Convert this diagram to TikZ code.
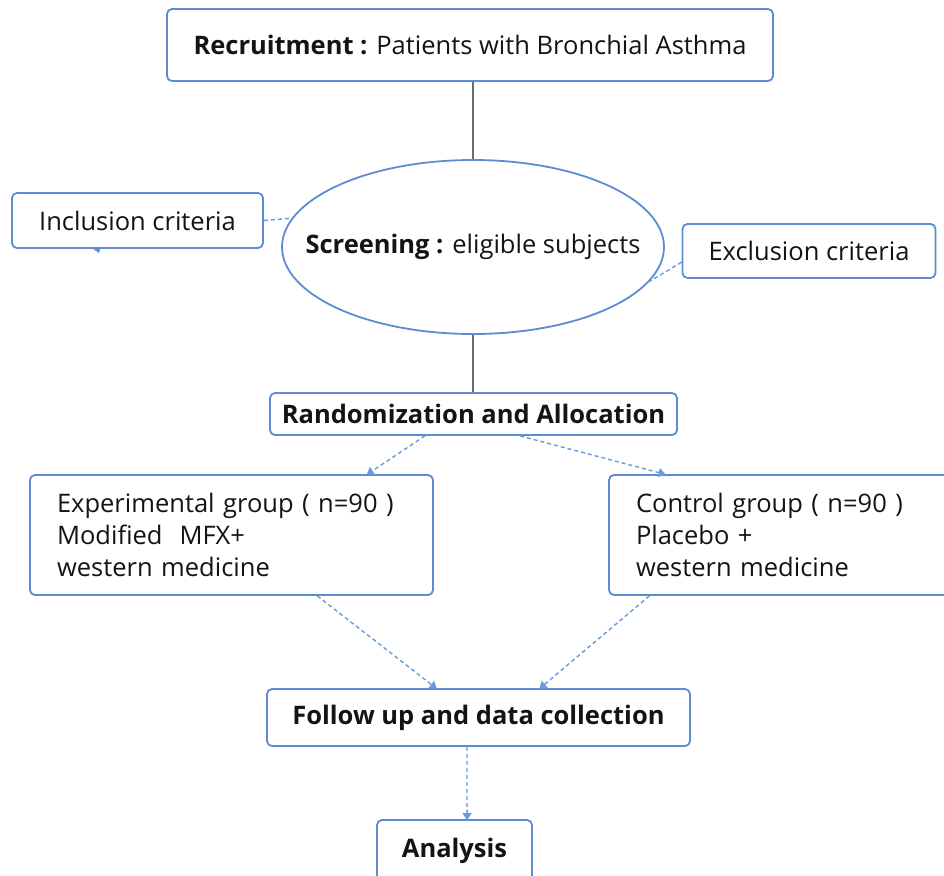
\documentclass[tikz,border=0pt]{standalone}
\usepackage{fontspec}
\setmainfont{Open Sans}
\usetikzlibrary{shapes.geometric,arrows.meta,calc}
\definecolor{boxblue}{RGB}{92,140,210}
\definecolor{dashblue}{RGB}{104,154,222}
\definecolor{linegray}{RGB}{105,108,118}
\definecolor{txt}{RGB}{20,20,24}
\tikzset{
  box/.style={draw=boxblue, line width=1.8pt, rounded corners=5pt, fill=white, text=txt, inner sep=0pt, align=center, font=\fontsize{25.5}{31}\selectfont},
  oval/.style={ellipse, draw=boxblue, line width=1.8pt, fill=white, text=txt, inner xsep=-36pt, inner ysep=0pt, font=\fontsize{25.5}{31}\selectfont},
  solidline/.style={draw=linegray, line width=1.3pt},
  dashline/.style={draw=dashblue, line width=1.4pt, dash pattern=on 4pt off 3pt},
  dasharrow/.style={dashline, -{Triangle[width=9pt,length=7pt]}, shorten >=-1pt},
}
\begin{document}
\begin{tikzpicture}[x=1pt,y=-1pt]
\clip (0,0) rectangle (944,875);
\fill[white] (0,0) rectangle (944,875);

\node[box, minimum width=606, minimum height=72] (rec) at (470,45) {\textbf{Recruitment :} Patients with Bronchial Asthma};
\node[oval, minimum width=382, minimum height=174] (scr) at (473,247) {\textbf{Screening :} eligible subjects};
\node[box, minimum width=251, minimum height=55] (inc) at (137.5,220.5) {Inclusion criteria};
\node[box, minimum width=253, minimum height=54] (exc) at (809,251) {Exclusion criteria};
\node[box, minimum width=407, minimum height=42] (rand) at (473.5,414) {\textbf{Randomization and Allocation}};
\node[box, minimum width=403, minimum height=120, text width=349, align=left, font=\fontsize{25.5}{32}\selectfont] (exp) at (231.5,535) {Experimental group ( n=90 )\\Modified~~MFX+\\western medicine};
\node[box, minimum width=351, minimum height=120, text width=297, align=left, font=\fontsize{25.5}{32}\selectfont] (ctl) at (784.5,535) {Control group ( n=90 )\\Placebo +\\western medicine};
\node[box, minimum width=423, minimum height=57] (fol) at (478.5,717.5) {\textbf{Follow up and data collection}};
\node[box, minimum width=155, minimum height=62] (ana) at (454.5,851) {\textbf{Analysis}};

% solid connectors
\draw[solidline] (scr.north) -- (scr.north |- rec.south);
\draw[solidline] (scr.south) -- (scr.south |- rand.north);

% dashed side connectors
\draw[dashline] (inc.east) -- (scr.171);
\draw[dashline] ($(exc.south west)!0.3!(exc.north west)$) -- (scr.-11);
\fill[boxblue] ($(inc.south west)!0.34!(inc.south east)$) ++(-4,0) -- ++(7,0) -- ++(-1,4) -- cycle;

% dashed arrows
\draw[dasharrow] ($(rand.south west)!0.381!(rand.south east)$) -- ($(exp.north west)!0.836!(exp.north east)$);
\draw[dasharrow] ($(rand.south west)!0.614!(rand.south east)$) -- ($(ctl.north west)!0.16!(ctl.north east)$);
\draw[dasharrow] ($(exp.south west)!0.712!(exp.south east)$) -- ($(fol.north west)!0.40!(fol.north east)$);
\draw[dasharrow] ($(ctl.south west)!0.117!(ctl.south east)$) -- ($(fol.north west)!0.645!(fol.north east)$);
\draw[dasharrow] ($(fol.south west)!0.473!(fol.south east)$) -- ($(ana.north west)!0.58!(ana.north east)$);
\end{tikzpicture}
\end{document}
